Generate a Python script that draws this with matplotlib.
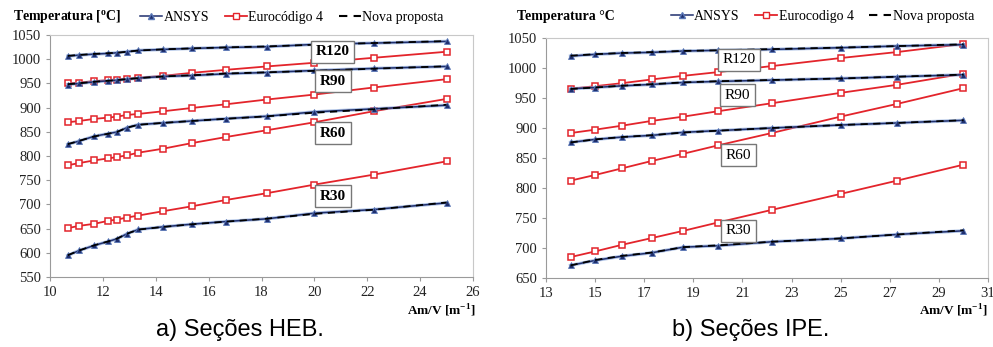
import matplotlib.pyplot as plt

# a) HEB sections
heb_x = [10.67, 11.11, 11.67, 12.2, 12.54, 12.91, 13.34, 14.28, 15.38, 16.67, 18.19, 20.0, 22.24, 25.0]
heb_ansys = {
    "R120": [1006.5, 1008.6, 1010.6, 1012, 1013.4, 1015.5, 1018.2, 1020.3, 1022.4, 1024.4, 1025.8, 1030.7, 1033.4, 1036.9],
    "R90": [947.8, 949.9, 953.3, 955.4, 956.8, 958.8, 961, 964.4, 966.4, 970, 972.6, 976.8, 981, 985.1],
    "R60": [824.2, 831.1, 840.8, 846.3, 849.7, 858.7, 864.9, 868.4, 872.5, 877.3, 882.2, 891.2, 897.4, 905],
    "R30": [594.6, 604.9, 615.2, 623.5, 629, 639.3, 648.2, 653.7, 659.2, 664.7, 670.2, 681.9, 689.4, 703.2],
}
heb_ec4 = {
    "R120": [949.9, 951.9, 954.7, 956.8, 958.1, 959.5, 961.6, 965.7, 972, 978.2, 985.1, 992.7, 1003, 1015.5],
    "R90": [869.7, 872.5, 876.7, 879.4, 881.5, 884.9, 887, 892.5, 899.4, 907, 916.7, 927, 941.6, 958.8],
    "R60": [781, 785.5, 791, 795.1, 797.9, 801.4, 806.9, 815.2, 826.9, 839.4, 853.2, 869.7, 892.5, 918],
    "R30": [651, 655.8, 659.9, 666.1, 668.8, 672.9, 677, 686, 696.3, 709.3, 723.1, 740.9, 761.5, 789],
}
heb_nova = {
    "R120": [1007, 1009, 1011, 1012.5, 1013.5, 1015.5, 1018, 1020.5, 1022.5, 1024.5, 1026.5, 1030, 1033.5, 1037.5],
    "R90": [948.5, 950.5, 953.5, 955.5, 957, 959, 961, 964.5, 967, 970.5, 973, 976, 980.5, 985.5],
    "R60": [824.5, 831.5, 840.5, 846, 850, 858.5, 864.5, 868.5, 872.5, 877, 882, 889.5, 896.5, 906],
    "R30": [595, 605, 615.5, 623.5, 629.5, 639.5, 648, 653.5, 659, 664.5, 670.5, 680.5, 689, 704],
}
heb_label_pos = {"R120": (20.7, 1015), "R90": (20.7, 955), "R60": (20.7, 847), "R30": (20.7, 717)}

# b) IPE sections
ipe_x = [14.0, 15.0, 16.1, 17.3, 18.6, 20.0, 22.2, 25.0, 27.3, 30.0]
ipe_ansys = {
    "R120": [1019.9, 1022.7, 1024.9, 1026, 1028.3, 1029.4, 1031, 1033.8, 1036.6, 1038.9],
    "R90": [965.3, 967.5, 970.3, 972.6, 975.9, 977.6, 979.8, 982.6, 985.4, 988.7],
    "R60": [876, 881, 884.9, 887.7, 892.8, 895.6, 900, 905, 908.4, 912.8],
    "R30": [671, 679.3, 686.4, 692, 701.5, 703.7, 710.4, 715.9, 722.6, 728.7],
}
ipe_ec4 = {
    "R120": [965.3, 969.7, 974.7, 980.9, 987, 993.1, 1003.2, 1016.6, 1026.6, 1040],
    "R90": [891.6, 897.2, 903.9, 911.8, 919, 927.9, 941.3, 958.6, 972, 990.4],
    "R60": [812.3, 821.7, 832.8, 845, 857.2, 871, 891.7, 919, 940.2, 966.4],
    "R30": [684.9, 694.3, 705.4, 716.5, 728.7, 742.5, 763.6, 790.2, 812.3, 838.9],
}
ipe_nova = {
    "R120": [1020.5, 1023, 1025, 1026.5, 1028.5, 1029.5, 1031.5, 1034, 1036.5, 1039.5],
    "R90": [965, 967.5, 970.5, 973, 976, 978, 980, 982.5, 985.5, 989],
    "R60": [876, 881, 885, 888, 892.5, 895.5, 900, 905, 908.5, 913],
    "R30": [671, 680, 687, 692.5, 701.5, 704.5, 710.5, 716, 722.5, 729.5],
}
ipe_label_pos = {"R120": (20.85, 1014), "R90": (20.8, 955), "R60": (20.85, 855), "R30": (20.85, 729)}

serif = ["Liberation Serif", "DejaVu Serif"]
plt.rcParams["font.family"] = serif
plt.rcParams["mathtext.fontset"] = "custom"
plt.rcParams["mathtext.rm"] = "Liberation Serif"
plt.rcParams["mathtext.bf"] = "Liberation Serif:bold"

blue = "#1f2f6e"
red = "#e3242b"
frame = "#c8c8c8"


def draw(ax, x, ansys, ec4, nova, label_pos, bold):
    for key in ["R120", "R90", "R60", "R30"]:
        ax.plot(x, ec4[key], color=red, lw=1.3, marker="s", ms=4.5,
                mfc="white", mec=red, mew=1.1, zorder=2)
        ax.plot(x, ansys[key], color="#7f9fd6", lw=2.4, alpha=0.6, zorder=3)
        ax.plot(x, ansys[key], color=blue, lw=1.1, marker="^", ms=4,
                mfc=blue, mec="#5a78b8", mew=0.6, zorder=4)
        ax.plot(x, nova[key], color="black", lw=1.3, ls=(0, (4, 3)), zorder=5)
        lx, ly = label_pos[key]
        ax.text(lx, ly, key, fontsize=11, ha="center", va="center",
                fontweight="bold" if bold else "normal", zorder=6,
                bbox=dict(boxstyle="square,pad=0.3", fc="white", ec="#777777", lw=1.0))
    for side in ["top", "right"]:
        ax.spines[side].set_color(frame)
    for side in ["left", "bottom"]:
        ax.spines[side].set_color("#9a9a9a")
    ax.tick_params(direction="out", length=3, color="#9a9a9a", labelsize=10.5,
                   labelcolor="#222222")
    for lab in ax.get_xticklabels() + ax.get_yticklabels():
        lab.set_family(serif)


fig = plt.figure(figsize=(9.93, 3.47), dpi=100)
ax1 = fig.add_axes([0.0504, 0.2017, 0.4259, 0.6973])
ax2 = fig.add_axes([0.5498, 0.1988, 0.4452, 0.6917])

ax1.set_xlim(10, 26)
ax1.set_ylim(550, 1050)
ax1.set_xticks(range(10, 27, 2))
ax1.set_yticks(range(550, 1051, 50))
draw(ax1, heb_x, heb_ansys, heb_ec4, heb_nova, heb_label_pos, True)

ax2.set_xlim(13, 31)
ax2.set_ylim(650, 1050)
ax2.set_xticks(range(13, 32, 2))
ax2.set_yticks(range(650, 1051, 50))
draw(ax2, ipe_x, ipe_ansys, ipe_ec4, ipe_nova, ipe_label_pos, False)

# titles / axis labels
fig.text(0.013, 0.95, "Temperatura [$^{\\mathbf{o}}$C]", fontsize=10, fontweight="bold", va="center")
fig.text(0.521, 0.952, "Temperatura °C", fontsize=10, fontweight="bold", va="center")
fig.text(0.479, 0.104, "Am/V [m$^{\\mathbf{-1}}$]", fontsize=9.5, fontweight="bold", ha="right", va="center")
fig.text(0.994, 0.104, "Am/V [m$^{\\mathbf{-1}}$]", fontsize=9.5, fontweight="bold", ha="right", va="center")

# legends
handles = [
    plt.Line2D([], [], color=blue, lw=1.1, marker="^", ms=4, mfc=blue, mec="#5a78b8"),
    plt.Line2D([], [], color=red, lw=1.3, marker="s", ms=4.5, mfc="white", mec=red),
    plt.Line2D([], [], color="black", lw=1.5, ls=(0, (4, 3))),
]
fig.legend(handles, ["ANSYS", "Eurocódigo 4", "Nova proposta"], loc="center",
           bbox_to_anchor=(0.294, 0.95), ncol=3, frameon=False, fontsize=10,
           handlelength=1.6, handletextpad=0.1, columnspacing=1.1)
fig.legend(handles, ["ANSYS", "Eurocodigo 4", "Nova proposta"], loc="center",
           bbox_to_anchor=(0.828, 0.952), ncol=3, frameon=False, fontsize=10,
           handlelength=1.6, handletextpad=0.1, columnspacing=1.1)

# captions
fig.text(0.242, 0.05, "a) Seções HEB.", fontsize=17, family="Liberation Sans", ha="center", va="center")
fig.text(0.756, 0.05, "b) Seções IPE.", fontsize=17, family="Liberation Sans", ha="center", va="center")

fig.savefig("out.png", dpi=100)
